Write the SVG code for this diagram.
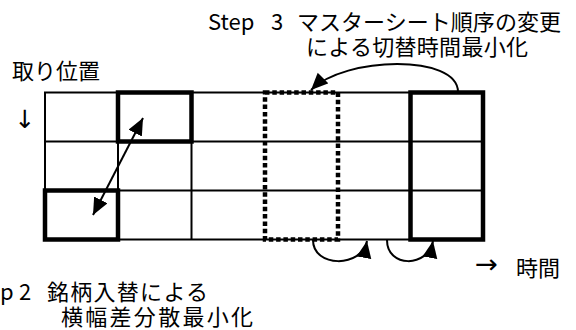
<svg xmlns="http://www.w3.org/2000/svg" width="576" height="330" viewBox="0 0 576 330">
  <style>
    .t { font-family: "Noto Sans CJK JP", "Noto Sans", sans-serif; font-size: 22px; fill: #000; }
    .sym { font-family: "DejaVu Sans", sans-serif; fill: #000; }
    .thin { fill: none; stroke: #000; stroke-width: 2; }
    .thick { fill: none; stroke: #000; stroke-width: 4.5; }
    .dash { fill: none; stroke: #000; stroke-width: 4.5; stroke-dasharray: 4.5 2.8; }
    .conn { fill: none; stroke: #000; stroke-width: 2; }
  </style>
  <defs>
    <marker id="ah" markerUnits="userSpaceOnUse" markerWidth="19" markerHeight="16" refX="17" refY="7.5" orient="auto-start-reverse">
      <path d="M0,0 L17,7.5 L0,15 z" fill="#000"/>
    </marker>
  </defs>
  <rect width="576" height="330" fill="#fff"/>

  <g id="grid">
    <rect class="thin" x="45" y="92.5" width="438" height="147"/>
    <line class="thin" x1="45" y1="141.5" x2="483" y2="141.5"/>
    <line class="thin" x1="45" y1="190.5" x2="483" y2="190.5"/>
    <line class="thin" x1="118" y1="92.5" x2="118" y2="239.5"/>
    <line class="thin" x1="191.5" y1="92.5" x2="191.5" y2="239.5"/>
  </g>
  <g id="box-top">
    <rect class="thick" x="118" y="92.5" width="73.5" height="49"/>
  </g>
  <g id="box-bottom">
    <rect class="thick" x="45" y="190.5" width="73" height="49"/>
  </g>
  <g id="col-dashed">
    <rect class="dash" x="265" y="92.5" width="73" height="147"/>
  </g>
  <g id="col-right">
    <rect class="thick" x="410.5" y="92.5" width="72.5" height="147"/>
  </g>

  <g id="connectors">
    <line class="conn" x1="93" y1="215" x2="143" y2="118" marker-start="url(#ah)" marker-end="url(#ah)"/>
    <path class="conn" d="M458,92 C458,54 345,56 311,90" marker-end="url(#ah)"/>
    <path class="conn" d="M313,240 C313,268 362,268 367,241" marker-end="url(#ah)"/>
    <path class="conn" d="M387,240 C387,268 428,268 433,241" marker-end="url(#ah)"/>
  </g>

  <g id="labels">
    <text class="t"><tspan x="208" y="30">Step</tspan><tspan x="271" y="30">3</tspan><tspan x="297" y="30" textLength="264">マスターシート順序の変更</tspan></text>
    <text class="t" x="306" y="55" textLength="222">による切替時間最小化</text>
    <text class="t" x="12" y="79" textLength="88">取り位置</text>
    <text class="sym" x="25" y="128" text-anchor="middle" style="font-size:25px">↓</text>
    <text class="sym" x="475" y="273" textLength="23" lengthAdjust="spacingAndGlyphs" style="font-size:26px">→</text>
    <text class="t" x="516" y="276">時間</text>
    <text class="t"><tspan x="0" y="300">p</tspan><tspan x="19" y="300">2</tspan><tspan x="47" y="300" textLength="161">銘柄入替による</tspan></text>
    <text class="t" x="61" y="325" textLength="192">横幅差分散最小化</text>
  </g>
</svg>
